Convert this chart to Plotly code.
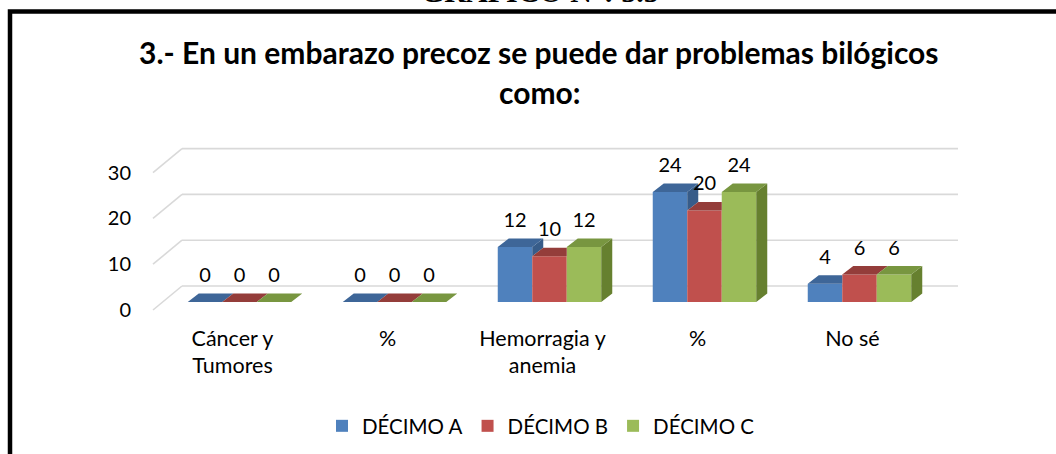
import plotly.graph_objects as go

# ---------------- data ----------------
categories = ["Cáncer y<br>Tumores", "%", "Hemorragia y<br>anemia", "%", "No sé"]
series_names = ["DÉCIMO A", "DÉCIMO B", "DÉCIMO C"]
decimo_a = [0, 0, 12, 24, 4]
decimo_b = [0, 0, 10, 20, 6]
decimo_c = [0, 0, 12, 24, 6]
y_tick_values = [0, 10, 20, 30]
y_tick_text = ["0", "10", "20", "30"]
title_line1 = "3.- En un embarazo precoz se puede dar problemas bilógicos"
title_line2 = "como:"
header_text = "GRÁFICO N°: 5.5"

# ---------------- style ----------------
front_colors = ["#4F81BD", "#C0504D", "#9BBB59"]
top_colors = ["#3E6698", "#943D3A", "#789640"]
side_colors = ["#375C89", "#853634", "#66802F"]
grid_color = "#D9D9D9"
FONT = "Lato"

# page geometry (pixels)
W_PX, H_PX = 1056, 454
L, R, T, B = 136, 1000, 140, 320
PX_X = 155.0        # pixels per category
PX_Y = 4.58         # pixels per value unit
X0_PX = 239.5       # pixel of first category centre
Y0_PX = 302.0       # pixel of value 0 (front plane)

x_range = [(L - X0_PX) / PX_X, (R - X0_PX) / PX_X]
y_range = [-(B - Y0_PX) / PX_Y, (Y0_PX - T) / PX_Y]

BAR_W = 34.5 / PX_X
BARGAP = 1 - 3 * BAR_W
DX = 11.0 / PX_X
DY = 8.5 / PX_Y
LABEL_OFF = 25.0 / PX_Y

# back wall geometry
FRONT_EDGE_X = (153 - X0_PX) / PX_X
WALL_X0 = (182 - X0_PX) / PX_X
WALL_X1 = (958 - X0_PX) / PX_X
FRONT_EDGE_DY = -8.0 / PX_Y
WALL_DY = 16.0 / PX_Y


def px_to_paper_x(px):
    return (px - L) / (R - L)


def px_to_paper_y(py):
    return (B - py) / (B - T)


series = [decimo_a, decimo_b, decimo_c]
xs = list(range(len(categories)))

fig = go.Figure()

# front faces (real bars)
for k, (name, vals) in enumerate(zip(series_names, series)):
    fig.add_trace(go.Bar(
        x=xs, y=vals, name=name,
        marker=dict(color=front_colors[k], line=dict(width=0)),
        hoverinfo="skip",
    ))

# 3D side / top faces computed from the same values
for k in range(3):
    side_x, side_y, top_x, top_y = [], [], [], []
    for c in xs:
        h = series[k][c]
        xl = c + (k - 1.5) * BAR_W
        xr = xl + BAR_W
        h_next = series[k + 1][c] if k < 2 else None
        # side face
        if h_next is None or h > h_next:
            base = 0 if h_next is None else max(h_next, 0)
            side_x += [xr, xr + DX, xr + DX, xr, xr, None]
            side_y += [base, base + DY, h + DY, h, base, None]
        # top face (clipped by a taller neighbour in front)
        if h_next is not None and h_next > h:
            cut = min(h_next, h + DY)
            xc = xr + DX * (cut - h) / DY
            top_x += [xl, xr, xr, xc, xr + DX, xl + DX, xl, None]
            top_y += [h, h, cut, cut, h + DY, h + DY, h, None]
        else:
            top_x += [xl, xr, xr + DX, xl + DX, xl, None]
            top_y += [h, h, h + DY, h + DY, h, None]
    fig.add_trace(go.Scatter(
        x=side_x, y=side_y, mode="lines", fill="toself",
        fillcolor=side_colors[k], line=dict(width=0, color=side_colors[k]),
        showlegend=False, hoverinfo="skip"))
    fig.add_trace(go.Scatter(
        x=top_x, y=top_y, mode="lines", fill="toself",
        fillcolor=top_colors[k], line=dict(width=0, color=top_colors[k]),
        showlegend=False, hoverinfo="skip"))

# data labels
for k in range(3):
    fig.add_trace(go.Scatter(
        x=[c + (k - 1) * BAR_W for c in xs],
        y=[v + LABEL_OFF for v in series[k]],
        mode="text", text=[str(v) for v in series[k]],
        textposition="middle center",
        textfont=dict(family=FONT, size=20, color="#000000"),
        showlegend=False, hoverinfo="skip"))

# back-wall gridlines and left floor diagonals
shapes = []
for v in y_tick_values:
    shapes.append(dict(type="line", xref="x", yref="y", layer="below",
                       x0=WALL_X0, x1=WALL_X1, y0=v + WALL_DY, y1=v + WALL_DY,
                       line=dict(color=grid_color, width=1.6)))
    shapes.append(dict(type="line", xref="x", yref="y", layer="below",
                       x0=FRONT_EDGE_X, x1=WALL_X0,
                       y0=v + FRONT_EDGE_DY, y1=v + WALL_DY,
                       line=dict(color=grid_color, width=1.6)))

# outer black frame (extends past right/bottom edge)
shapes.append(dict(type="rect", xref="paper", yref="paper", layer="above",
                   x0=px_to_paper_x(10), x1=px_to_paper_x(1070),
                   y0=px_to_paper_y(470), y1=px_to_paper_y(11.5),
                   line=dict(color="#000000", width=4.5),
                   fillcolor="rgba(0,0,0,0)"))

annotations = [
    dict(text=title_line1, xref="paper", yref="paper",
         x=px_to_paper_x(539), y=px_to_paper_y(52), xanchor="center", yanchor="middle",
         showarrow=False, font=dict(family=FONT, size=30, color="#000000", weight="bold")),
    dict(text=title_line2, xref="paper", yref="paper",
         x=px_to_paper_x(540), y=px_to_paper_y(92), xanchor="center", yanchor="middle",
         showarrow=False, font=dict(family=FONT, size=30, color="#000000", weight="bold")),
    dict(text=header_text, xref="paper", yref="paper",
         x=px_to_paper_x(540), y=px_to_paper_y(10), xanchor="center", yanchor="bottom",
         showarrow=False,
         font=dict(family="Liberation Serif", size=30, color="#000000", weight="bold")),
]

fig.update_layout(
    width=W_PX, height=H_PX,
    margin=dict(l=L, r=W_PX - R, t=T, b=H_PX - B, autoexpand=False),
    paper_bgcolor="#FFFFFF", plot_bgcolor="rgba(0,0,0,0)",
    barmode="group", bargap=BARGAP, bargroupgap=0,
    shapes=shapes, annotations=annotations,
    showlegend=True,
    legend=dict(orientation="h", x=px_to_paper_x(541), y=px_to_paper_y(426),
                xanchor="center", yanchor="middle",
                font=dict(family=FONT, size=20.5, color="#000000"),
                traceorder="normal", itemwidth=30),
    font=dict(family=FONT, color="#000000"),
)

fig.update_xaxes(range=x_range, tickmode="array",
                 tickvals=[c - 7 / PX_X for c in xs], ticktext=categories,
                 showgrid=False, zeroline=False, showline=False, ticks="",
                 tickfont=dict(family=FONT, size=21.5, color="#000000"),
                 ticklabelstandoff=3, fixedrange=True)
fig.update_yaxes(range=y_range, tickmode="array",
                 tickvals=[v + FRONT_EDGE_DY for v in y_tick_values], ticktext=y_tick_text,
                 showgrid=False, zeroline=False, showline=False, ticks="",
                 tickfont=dict(family=FONT, size=20, color="#000000"),
                 ticklabelstandoff=4, fixedrange=True)

fig.write_html("out.html",
               config={"displayModeBar": False, "staticPlot": True},
               post_script="document.body.style.margin='0';document.body.style.overflow='hidden';")
